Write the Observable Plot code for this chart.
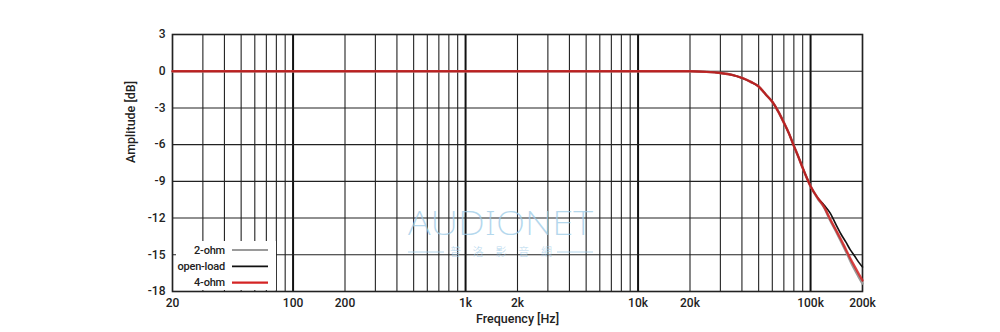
<!DOCTYPE html>
<html><head><meta charset="utf-8">
<script src="https://cdn.jsdelivr.net/npm/d3@7"></script>
<script src="https://cdn.jsdelivr.net/npm/@observablehq/plot@0.6"></script>
<style>
body{margin:0;background:#fff;}
#chart{position:relative;width:1000px;height:332px;}
</style></head><body><div id="chart"></div>
<script>
// ---- data ----
const freqs = [20, 100, 1000, 10000, 20000, 25000, 30000, 35000, 40000, 45000, 50000, 55000, 60000, 65000, 70000, 75000, 80000, 85000, 90000, 95000, 100000, 110000, 120000, 130000, 140000, 150000, 160000, 170000, 180000, 190000, 200000];
const openLoad = [0, 0, 0, 0, 0, -0.05, -0.15, -0.3, -0.55, -0.87, -1.25, -1.9, -2.5, -3.3, -4.2, -5.1, -6.1, -7.0, -7.9, -8.7, -9.4, -10.35, -10.95, -11.6, -12.5, -13.3, -13.95, -14.6, -15.1, -15.6, -16.0];
const ohm4 = [0, 0, 0, 0, 0, -0.05, -0.15, -0.3, -0.55, -0.87, -1.25, -1.9, -2.5, -3.3, -4.2, -5.1, -6.1, -7.0, -7.9, -8.7, -9.4, -10.35, -11.1, -12.1, -12.95, -13.75, -14.55, -15.3, -15.95, -16.55, -17.1];
const ohm2 = [0, 0, 0, 0, 0, -0.05, -0.15, -0.3, -0.55, -0.87, -1.25, -1.9, -2.5, -3.3, -4.2, -5.1, -6.1, -7.0, -7.9, -8.7, -9.4, -10.4, -11.15, -12.2, -13.05, -13.9, -14.7, -15.5, -16.2, -16.8, -17.35];
const seriesNames = ["2-ohm", "open-load", "4-ohm"];
const seriesColors = ["#9a9a9a", "#111111", "#d42424"];
const xTicks = [20, 50, 100, 200, 500, 1000, 2000, 5000, 10000, 20000, 50000, 100000, 200000];
const xTickLabels = ["20", "50", "100", "200", "500", "1k", "2k", "5k", "10k", "20k", "50k", "100k", "200k"];
const yTicks = [3, 0, -3, -6, -9, -12, -15, -18];
const xLabel = "Frequency [Hz]";
const yLabel = "Amplitude [dB]";

// grid positions (1..9 x decades within the domain)
const xGrid = [];
for (const dec of [10, 100, 1000, 10000, 100000]) for (let m = 1; m <= 9; m++) { const v = m * dec; if (v >= 20 && v <= 200000) xGrid.push(v); }
const decades = [100, 1000, 10000, 100000];
const minorGrid = xGrid.filter(v => !decades.includes(v));

const series = [ohm2, openLoad, ohm4];
const rows = [];
series.forEach((arr, si) => freqs.forEach((f, i) => rows.push({f, db: arr[i], s: seriesNames[si]})));

const FONT = "Roboto,'Noto Sans',sans-serif";
const W = 1000, H = 332, ML = 172, MR = 138, MT = 34, MB = 41;
const tickMap = new Map(xTicks.map((t, i) => [t, xTickLabels[i]]));

const plot = Plot.plot({
  width: W, height: H,
  marginLeft: ML, marginRight: MR, marginTop: MT, marginBottom: MB,
  style: {fontSize: "12px", color: "#222", background: "#fff", fontFamily: FONT, fontWeight: 500},
  x: {type: "log", domain: [20, 200000]},
  y: {domain: [-18, 3]},
  marks: [
    Plot.ruleX(minorGrid, {stroke: "#222", strokeWidth: 1.1}),
    Plot.ruleX(decades, {stroke: "#111", strokeWidth: 2}),
    Plot.ruleY(yTicks, {stroke: "#222", strokeWidth: 1.1}),
    Plot.frame({stroke: "#222", strokeWidth: 1.6}),
    Plot.axisX(xTicks, {tickSize: 0, tickPadding: 7, tickFormat: d => tickMap.get(d), label: null, fontSize: 12}),
    Plot.axisY(yTicks, {tickSize: 0, tickPadding: 7, label: null, fontSize: 12, tickFormat: d => String(d)}),
    Plot.text([xLabel], {text: d => d, frameAnchor: "bottom", dy: 31, fontSize: 12.5, fill: "#222"}),
    Plot.text([yLabel], {text: d => d, frameAnchor: "left", rotate: -90, dx: -42, fontSize: 12.5, fill: "#222"}),
    Plot.line(rows.filter(d => d.s === "2-ohm"), {x: "f", y: "db", stroke: seriesColors[0], strokeWidth: 2.4, curve: "monotone-x"}),
    Plot.line(rows.filter(d => d.s === "open-load"), {x: "f", y: "db", stroke: seriesColors[1], strokeWidth: 1.6, curve: "monotone-x"}),
    Plot.line(rows.filter(d => d.s === "4-ohm"), {x: "f", y: "db", stroke: seriesColors[2], strokeWidth: 2.4, strokeOpacity: 0.85, curve: "monotone-x"})
  ]
});
document.getElementById("chart").appendChild(plot);

const svg = d3.select(plot);

// ---- watermark ----
const wm = svg.append("g").attr("fill", "#9ccbe8").attr("opacity", 0.75).attr("text-anchor", "start")
  .style("font-family", "'Noto Sans','DejaVu Sans',sans-serif").style("font-weight", 200);
wm.append("text").attr("x", 408).attr("y", 235).attr("font-size", 34)
  .attr("textLength", 185).attr("lengthAdjust", "spacingAndGlyphs").text("AUDIONET");
wm.append("text").attr("x", 450).attr("y", 256).attr("font-size", 11)
  .attr("textLength", 102).attr("lengthAdjust", "spacing")
  .style("font-family", "'Noto Sans CJK TC',sans-serif").text("普洛影音網");
wm.append("line").attr("x1", 408).attr("x2", 444).attr("y1", 252).attr("y2", 252).attr("stroke", "#9ccbe8").attr("stroke-width", 1);
wm.append("line").attr("x1", 557).attr("x2", 593).attr("y1", 252).attr("y2", 252).attr("stroke", "#9ccbe8").attr("stroke-width", 1);

// ---- legend (gnuplot-style, opaque box in lower-left corner) ----
const lg = svg.append("g").attr("transform", `translate(${ML + 4},${H - MB - 50})`);
lg.append("rect").attr("x", 0).attr("y", 0).attr("width", 100).attr("height", 49).attr("fill", "#fff");
seriesNames.forEach((name, i) => {
  const y = 9 + i * 16.3;
  lg.append("text").attr("x", 49).attr("y", y).attr("dy", "0.35em").attr("text-anchor", "end")
    .attr("font-size", 11).attr("letter-spacing", -0.2).attr("fill", "#222").text(name);
  lg.append("line").attr("x1", 56).attr("x2", 92).attr("y1", y).attr("y2", y)
    .attr("stroke", seriesColors[i]).attr("stroke-width", i === 2 ? 2.4 : 1.8);
});
</script></body></html>
